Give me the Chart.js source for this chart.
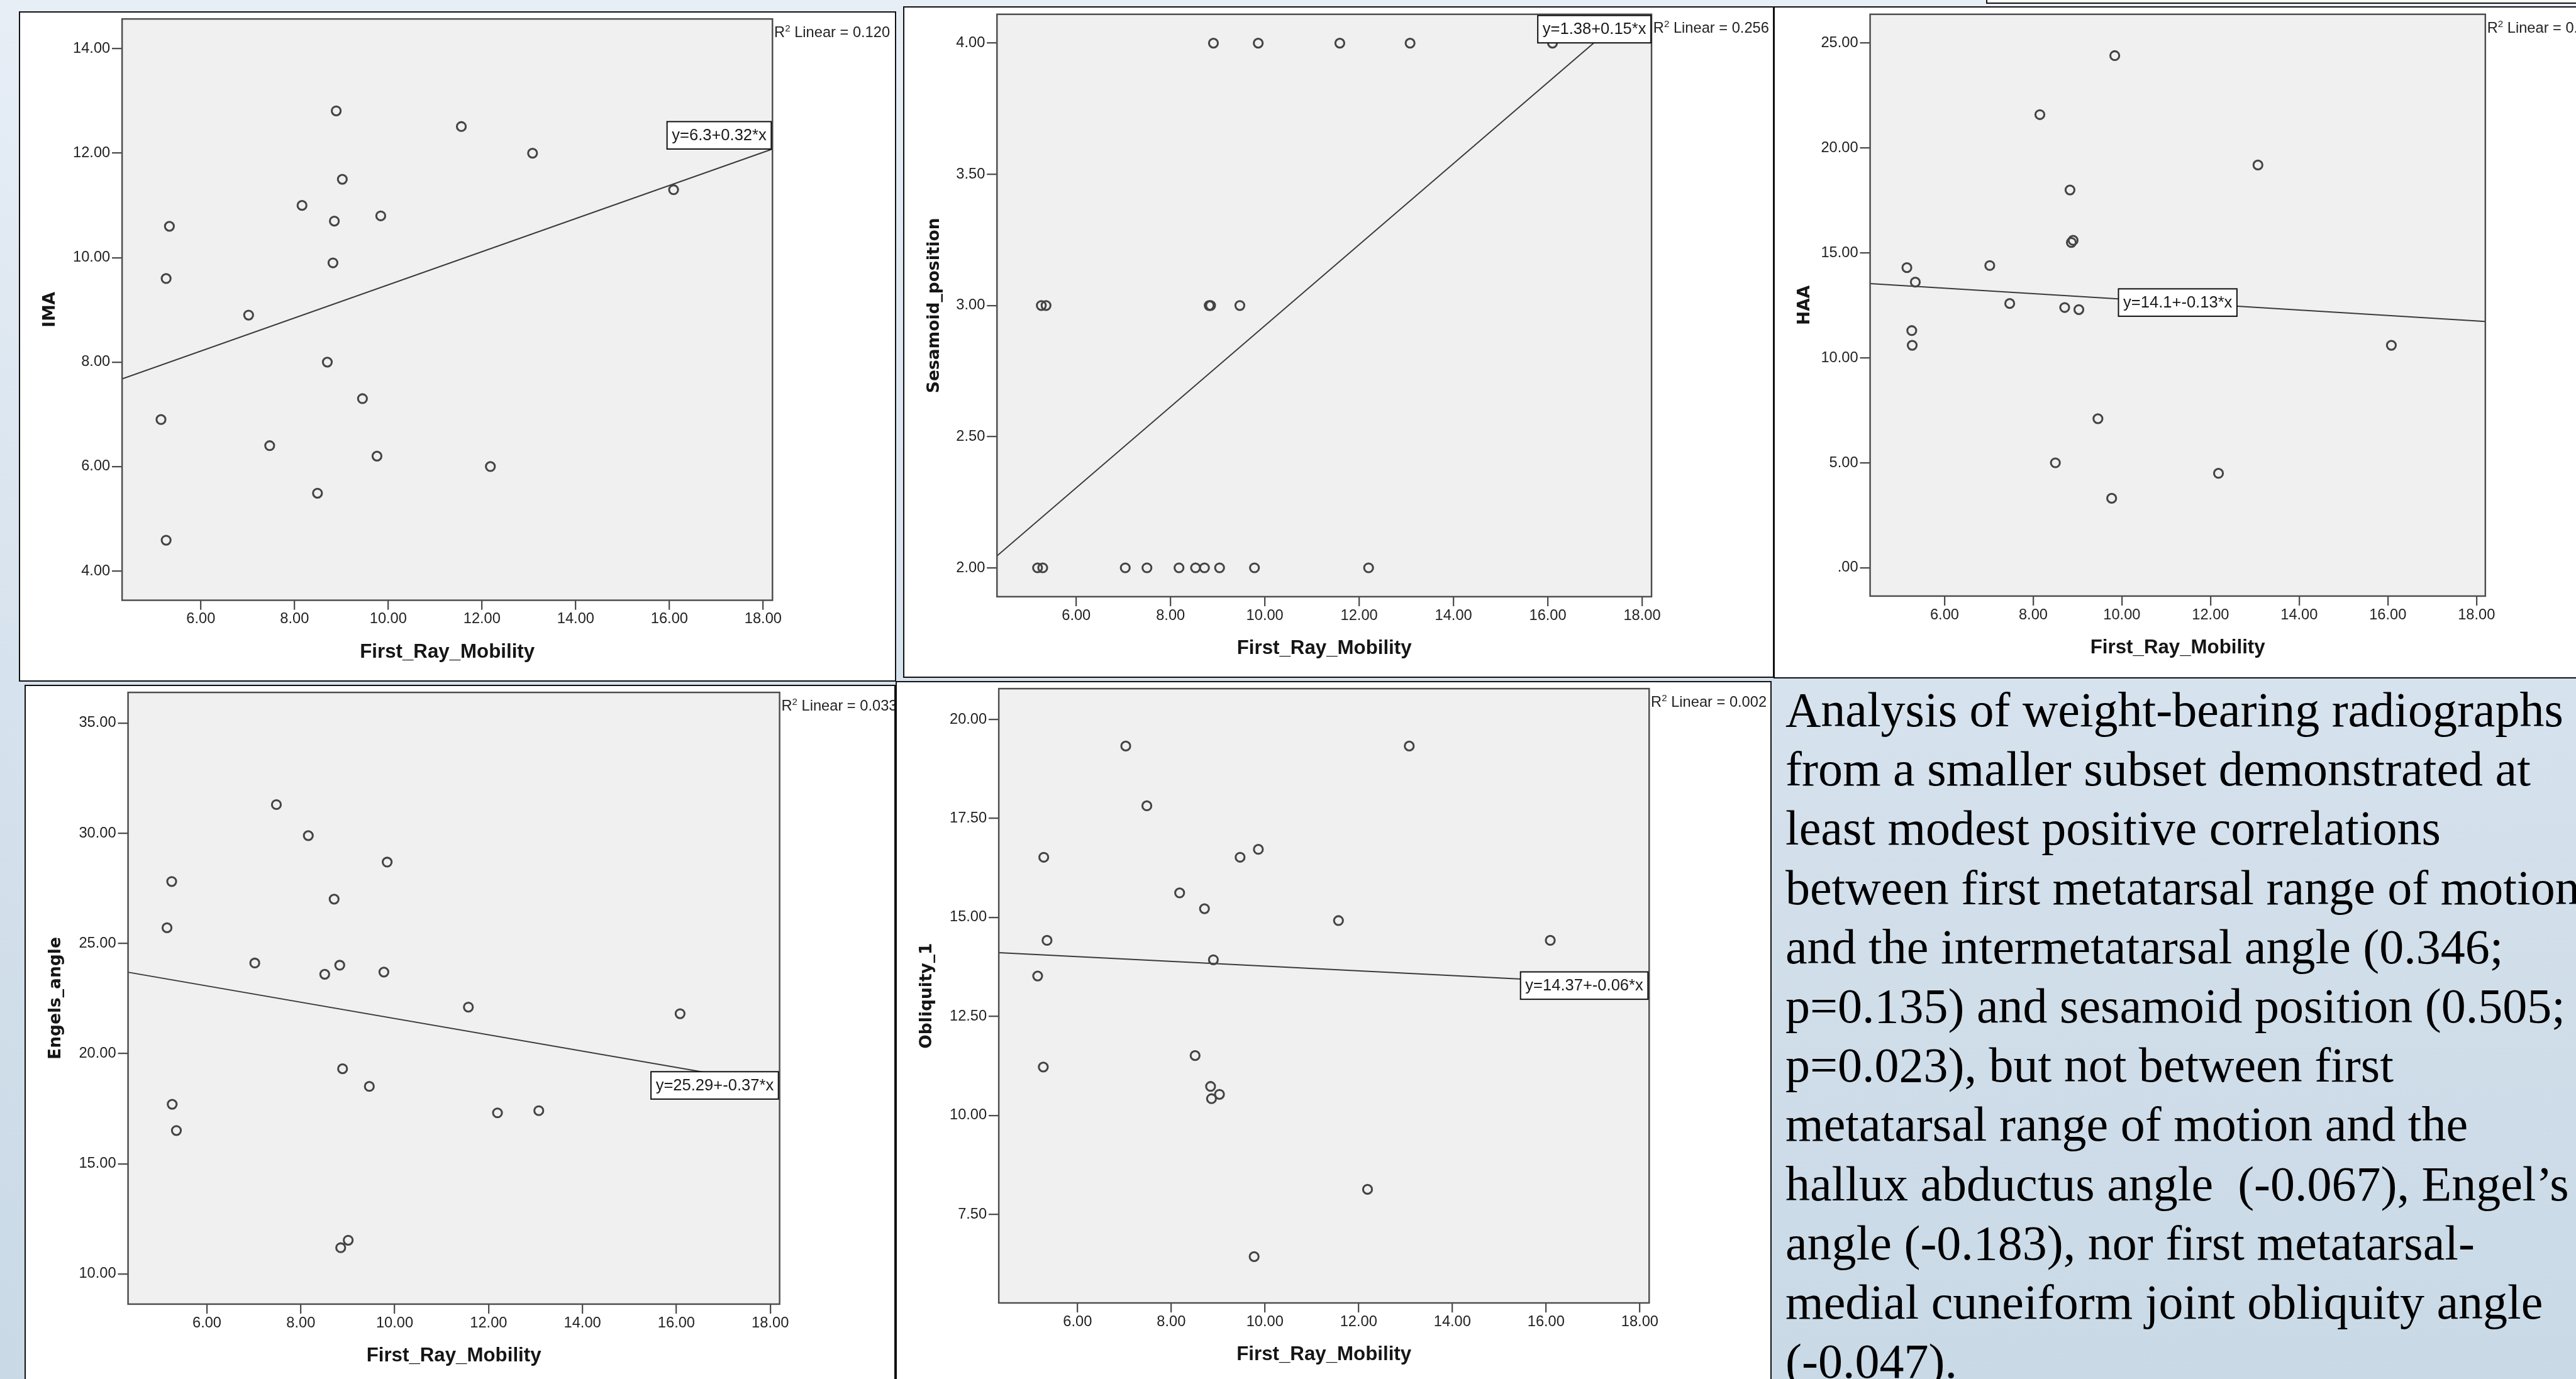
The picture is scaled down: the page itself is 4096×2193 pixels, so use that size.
<!DOCTYPE html>
<html>
<head>
<meta charset="utf-8">
<script src="https://cdn.jsdelivr.net/npm/chart.js@4.4.0/dist/chart.umd.min.js"></script>
<style>
html, body { margin: 0; padding: 0; }
body {
    width: 4096px; height: 2193px; overflow: hidden; position: relative;
    background: linear-gradient(180deg, #e7eef6 0%, #d6e2ed 50%, #c9d9e6 100%);
}
.frame { position: absolute; background: #fff; border: 2px solid #111; box-sizing: border-box; overflow: hidden; }
.frame canvas { position: absolute; left: 0; top: 0; }
#topbox { position: absolute; left: 3158px; top: -20px; width: 1000px; height: 26px; background: #fff; border: 2px solid #111; box-sizing: border-box; }
#note {
    position: absolute; left: 2839px; top: 1082px;
    font-family: 'Liberation Serif', 'Times New Roman', serif;
    font-size: 78px; line-height: 94.2px; color: #000; white-space: nowrap;
}
</style>
</head>
<body>
<div id="topbox"></div>
<script>
const K = 0.947;

// shared x axis
const xTicks = [6, 8, 10, 12, 14, 16, 18];
const xRange = [4.32, 18.2];

// IMA
const imaX = [8.89, 11.56, 13.08, 16.09, 9.02, 8.16, 8.85, 9.84, 5.33, 8.82, 5.26, 7.02, 8.70, 9.45, 5.15, 7.47, 9.76, 12.18, 8.49, 5.26];
const imaY = [12.81, 12.51, 12.00, 11.30, 11.50, 11.00, 10.70, 10.80, 10.60, 9.90, 9.60, 8.90, 8.00, 7.30, 6.90, 6.40, 6.20, 6.00, 5.49, 4.59];
const imaTicks = [4, 6, 8, 10, 12, 14];

// Sesamoid position
const sesX = [8.91, 9.86, 11.59, 13.08, 16.10, 5.26, 5.36, 8.82, 8.85, 9.47, 5.18, 5.29, 7.04, 7.50, 8.18, 8.53, 8.72, 9.04, 9.78, 12.20];
const sesY = [4, 4, 4, 4, 4, 3, 3, 3, 3, 3, 2, 2, 2, 2, 2, 2, 2, 2, 2, 2];
const sesTicks = [2, 2.5, 3, 3.5, 4];

// HAA
const haaX = [9.84, 8.15, 13.07, 8.83, 8.86, 8.90, 5.15, 7.02, 5.34, 7.47, 8.71, 9.03, 5.26, 5.27, 16.08, 9.46, 8.50, 12.18, 9.77];
const haaY = [24.40, 21.59, 19.19, 18.00, 15.50, 15.60, 14.30, 14.40, 13.61, 12.59, 12.40, 12.30, 11.30, 10.60, 10.60, 7.10, 5.00, 4.50, 3.31];
const haaTicks = [0, 5, 10, 15, 20, 25];

// Engels angle
const engX = [7.48, 8.16, 9.84, 5.25, 8.71, 5.15, 7.02, 8.83, 8.51, 9.77, 11.57, 16.08, 8.89, 9.46, 5.26, 13.07, 12.19, 5.35, 9.01, 8.85];
const engY = [31.30, 29.89, 28.69, 27.81, 27.01, 25.71, 24.11, 24.01, 23.60, 23.70, 22.11, 21.81, 19.31, 18.51, 17.70, 17.41, 17.31, 16.51, 11.53, 11.19];
const engTicks = [10, 15, 20, 25, 30, 35];

// Obliquity
const oblX = [7.03, 13.08, 7.48, 5.28, 9.47, 9.86, 8.18, 8.71, 11.57, 5.35, 16.09, 8.90, 5.15, 8.51, 5.27, 8.84, 9.03, 8.86, 12.19, 9.77];
const oblY = [19.33, 19.33, 17.82, 16.52, 16.52, 16.72, 15.62, 15.22, 14.92, 14.42, 14.42, 13.93, 13.52, 11.51, 11.22, 10.73, 10.53, 10.42, 8.13, 6.43];
const oblTicks = [7.5, 10, 12.5, 15, 17.5, 20];

// fit lines and labels
const fitIntercepts = [6.31, 1.378, 14.1, 25.29, 14.37];
const fitSlopes = [0.317, 0.1545, -0.13, -0.37, -0.06];
const eqLabels = ['y=6.3+0.32*x', 'y=1.38+0.15*x', 'y=14.1+-0.13*x', 'y=25.29+-0.37*x', 'y=14.37+-0.06*x'];
const r2Values = ['0.120', '0.256', '0.004', '0.033', '0.002'];
const yTitles = ['IMA', 'Sesamoid_position', 'HAA', 'Engels_angle', 'Obliquity_1'];

// layout in reference pixels: frame box, plot area, y range
const panels = [
    { frame: [32, 19, 1505, 1145], plot: [205, 31, 1297, 1008], xs: imaX, ys: imaY, yr: [3.44, 14.57], yt: imaTicks, eq: 'endAbove' },
    { frame: [1516, 11, 2979, 1139], plot: [1674, 24, 2773, 1002], xs: sesX, ys: sesY, yr: [1.89, 4.11], yt: sesTicks, eq: 'corner' },
    { frame: [2978, 11, 4400, 1140], plot: [3140, 24, 4173, 1001], xs: haaX, ys: haaY, yr: [-1.35, 26.37], yt: haaTicks, eq: 'middle' },
    { frame: [41, 1150, 1504, 2380], plot: [215, 1162, 1309, 2190], xs: engX, ys: engY, yr: [8.63, 36.39], yt: engTicks, eq: 'end' },
    { frame: [1504, 1144, 2975, 2380], plot: [1677, 1156, 2769, 2188], xs: oblX, ys: oblY, yr: [5.26, 20.78], yt: oblTicks, eq: 'end' }
];

const AXIS = '#4d4d4d';
const tickFont = { family: 'Liberation Sans', size: 25 * K };

const spssPlugin = {
    id: 'spss',
    beforeDraw(chart) {
        const { ctx, chartArea: a } = chart;
        ctx.save();
        ctx.fillStyle = '#f0f0f0';
        ctx.fillRect(a.left, a.top, a.right - a.left, a.bottom - a.top);
        ctx.restore();
    },
    afterDraw(chart, args, opts) {
        const { ctx, chartArea: a, scales } = chart;
        ctx.save();
        ctx.strokeStyle = AXIS;
        ctx.lineWidth = 2.6 * K;
        ctx.strokeRect(a.left, a.top, a.right - a.left, a.bottom - a.top);

        // equation box
        ctx.font = (27 * K) + 'px "Liberation Sans"';
        const tw = ctx.measureText(opts.eq).width;
        const bw = tw + 16 * K, bh = 46 * K;
        const lineAt = x => scales.y.getPixelForValue(opts.a + opts.b * x);
        let bx, by;
        if (opts.pos === 'corner') {
            bx = a.right - 1 * K - bw; by = a.top + 2 * K;
        } else if (opts.pos === 'middle') {
            const xm = (xRange[0] + xRange[1]) / 2;
            bx = scales.x.getPixelForValue(xm) - bw / 2; by = lineAt(xm) - bh / 2;
        } else if (opts.pos === 'endAbove') {
            bx = a.right - 2 * K - bw; by = lineAt(xRange[1]) - bh;
        } else {
            bx = a.right - 2 * K - bw; by = lineAt(xRange[1]) - bh / 2;
        }
        ctx.fillStyle = '#fff';
        ctx.fillRect(bx, by, bw, bh);
        ctx.strokeStyle = '#111';
        ctx.lineWidth = 2;
        ctx.strokeRect(bx, by, bw, bh);
        ctx.fillStyle = '#1a1a1a';
        ctx.textBaseline = 'middle';
        ctx.textAlign = 'left';
        ctx.fillText(opts.eq, bx + 8 * K, by + bh / 2 + 1);

        // R squared note
        let rx = a.right + 3 * K;
        const base = a.top + 31 * K;
        ctx.textBaseline = 'alphabetic';
        ctx.fillStyle = '#222';
        ctx.font = (25 * K) + 'px "Liberation Sans"';
        ctx.fillText('R', rx, base);
        rx += ctx.measureText('R').width;
        ctx.font = (16 * K) + 'px "Liberation Sans"';
        ctx.fillText('2', rx, base - 10 * K);
        rx += ctx.measureText('2').width;
        ctx.font = (25 * K) + 'px "Liberation Sans"';
        ctx.fillText(' Linear = ' + opts.r2, rx, base);
        ctx.restore();
    }
};

panels.forEach((p, i) => {
    const f = p.frame, pl = p.plot;
    const div = document.createElement('div');
    div.className = 'frame';
    const left = Math.round(f[0] * K), top = Math.round(f[1] * K);
    const w = Math.round((f[2] - f[0]) * K), h = Math.round((f[3] - f[1]) * K);
    div.style.left = left + 'px';
    div.style.top = top + 'px';
    div.style.width = w + 'px';
    div.style.height = h + 'px';
    const canvas = document.createElement('canvas');
    const cw = w - 4, ch = h - 4;
    canvas.width = cw;
    canvas.height = ch;
    div.appendChild(canvas);
    document.body.appendChild(div);

    const ox = left + 2, oy = top + 2;
    const padLeft = 8;
    const yW = pl[0] * K - ox - padLeft;
    const xH = 130 * K;
    const padTop = pl[1] * K - oy;
    const padRight = cw - (pl[2] * K - ox);
    const padBottom = ch - (pl[3] * K - oy) - xH;

    const yTitleSize = 28 * K, xTitleSize = 33 * K;
    const yTitlePad = 53 * K - 2 - padLeft - yTitleSize * 0.6;
    const xTitlePad = xH - 87 * K - xTitleSize * 0.6;

    const a = fitIntercepts[i], b = fitSlopes[i];

    new Chart(canvas, {
        type: 'scatter',
        data: {
            datasets: [{
                data: p.xs.map((x, j) => ({ x: x, y: p.ys[j] })),
                pointRadius: 7.5 * K,
                pointHoverRadius: 7.5 * K,
                pointBorderWidth: 3.2 * K,
                pointBorderColor: '#444',
                pointBackgroundColor: 'rgba(0,0,0,0)'
            }, {
                type: 'line',
                data: [{ x: xRange[0], y: a + b * xRange[0] }, { x: xRange[1], y: a + b * xRange[1] }],
                borderColor: '#3a3a3a',
                borderWidth: 2.1 * K,
                pointRadius: 0,
                fill: false,
                tension: 0
            }]
        },
        options: {
            responsive: false,
            animation: false,
            events: [],
            layout: { padding: { left: padLeft, top: padTop, right: padRight, bottom: padBottom } },
            plugins: {
                legend: { display: false },
                tooltip: { enabled: false },
                spss: { eq: eqLabels[i], r2: r2Values[i], pos: p.eq, a: a, b: b }
            },
            scales: {
                x: {
                    type: 'linear',
                    position: 'bottom',
                    min: xRange[0],
                    max: xRange[1],
                    afterBuildTicks: s => { s.ticks = xTicks.map(v => ({ value: v })); },
                    afterFit: s => { s.height = xH; s.paddingLeft = 0; s.paddingRight = 0; },
                    grid: { drawOnChartArea: false, drawTicks: true, tickLength: 16 * K, color: AXIS, lineWidth: 2.4 * K },
                    border: { display: false },
                    ticks: { autoSkip: false, maxRotation: 0, padding: 1, color: '#222', font: tickFont,
                        callback: v => v.toFixed(2) },
                    title: { display: true, text: 'First_Ray_Mobility', color: '#151515',
                        font: { family: 'Liberation Sans', weight: 'bold', size: xTitleSize },
                        padding: { top: 0, bottom: xTitlePad } }
                },
                y: {
                    type: 'linear',
                    position: 'left',
                    min: p.yr[0],
                    max: p.yr[1],
                    afterBuildTicks: s => { s.ticks = p.yt.map(v => ({ value: v })); },
                    afterFit: s => { s.width = yW; s.paddingTop = 0; s.paddingBottom = 0; },
                    grid: { drawOnChartArea: false, drawTicks: true, tickLength: 17 * K, color: AXIS, lineWidth: 2.4 * K },
                    border: { display: false },
                    ticks: { autoSkip: false, padding: 3 * K, color: '#222', font: tickFont,
                        callback: v => v === 0 ? '.00' : v.toFixed(2) },
                    title: { display: true, text: yTitles[i], color: '#151515',
                        font: { family: 'DejaVu Sans', weight: 'bold', size: yTitleSize },
                        padding: { top: yTitlePad, bottom: 0 } }
                }
            }
        },
        plugins: [spssPlugin]
    });
});

const note = document.createElement('div');
note.id = 'note';
note.innerHTML = [
    'Analysis of weight-bearing radiographs',
    'from a smaller subset demonstrated at',
    'least modest positive correlations',
    'between first metatarsal range of motion',
    'and the intermetatarsal angle (0.346;',
    'p=0.135) and sesamoid position (0.505;',
    'p=0.023), but not between first',
    'metatarsal range of motion and the',
    'hallux abductus angle&nbsp; (-0.067), Engel\u2019s',
    'angle (-0.183), nor first metatarsal-',
    'medial cuneiform joint obliquity angle',
    '(-0.047).'
].join('<br>');
document.body.appendChild(note);
</script>
</body>
</html>
